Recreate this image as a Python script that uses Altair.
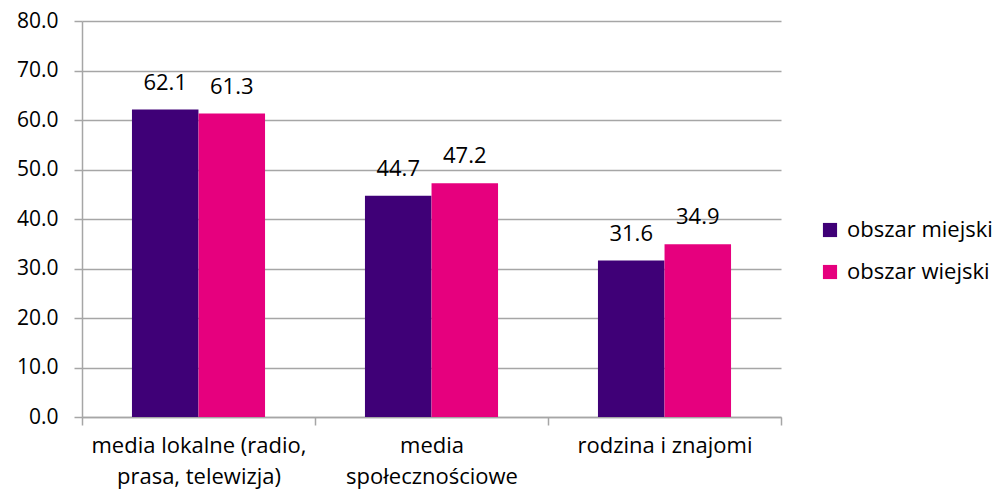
import altair as alt
import pandas as pd

categories = ["media lokalne (radio,|prasa, telewizja)", "media|społecznościowe", "rodzina i znajomi"]
series = ["obszar miejski", "obszar wiejski"]
miejski = [62.1, 44.7, 31.6]
wiejski = [61.3, 47.2, 34.9]
colors = ["#3F0077", "#E6007E"]

rows = []
for i, c in enumerate(categories):
    rows.append({"kat": c, "seria": series[0], "val": miejski[i]})
    rows.append({"kat": c, "seria": series[1], "val": wiejski[i]})
df = pd.DataFrame(rows)

FONT = "Open Sans"
FS = 22
GRAY = "#A6A6A6"

x = alt.X("kat:N", sort=categories, title=None,
          scale=alt.Scale(paddingInner=0, paddingOuter=0),
          axis=alt.Axis(labelExpr="split(datum.label, '|')", labelAngle=0,
                        labelFontSize=FS, labelFont=FONT, labelColor="#000000",
                        labelLineHeight=31, labelPadding=10, labelLimit=300,
                        tickBand="extent", ticks=True, tickSize=8, tickColor=GRAY,
                        domainColor=GRAY, domainWidth=1.5, tickWidth=1.5, grid=False))
xo = alt.XOffset("seria:N", sort=series, scale=alt.Scale(paddingOuter=0.75, paddingInner=0))
y = alt.Y("val:Q", title=None,
          scale=alt.Scale(domain=[0, 80], nice=False),
          axis=alt.Axis(values=[0, 10, 20, 30, 40, 50, 60, 70, 80], format=".1f",
                        labelFontSize=21, labelFont=FONT, labelColor="#000000",
                        labelPadding=16, tickSize=8, tickColor=GRAY, tickWidth=1.5,
                        domainColor=GRAY, domainWidth=1.5,
                        gridColor=GRAY, gridWidth=1.5))

base = alt.Chart(df).encode(x=x, xOffset=xo)

bars = base.mark_bar(size=66.5).encode(
    y=y,
    color=alt.Color("seria:N", sort=series,
                    scale=alt.Scale(domain=series, range=colors),
                    legend=alt.Legend(title=None, orient="none", legendX=737, legendY=198,
                                      symbolType="square", symbolSize=200,
                                      symbolStrokeWidth=0, labelFontSize=FS,
                                      labelFont=FONT, labelColor="#000000",
                                      rowPadding=20, padding=0, labelOffset=6)),
)

labels = base.mark_text(baseline="bottom", dy=-15, fontSize=FS, font=FONT, color="#000000").encode(
    y=alt.Y("val:Q"),
    text=alt.Text("val:Q", format=".1f"),
)

chart = alt.layer(bars, labels).properties(
    width=699, height=396,
    autosize=alt.AutoSizeParams(type="none"),
    padding={"left": 74, "top": 13, "right": 211, "bottom": 73},
).configure_view(stroke=None)

chart.save("out.html", embed_options={"renderer": "svg", "actions": False})
